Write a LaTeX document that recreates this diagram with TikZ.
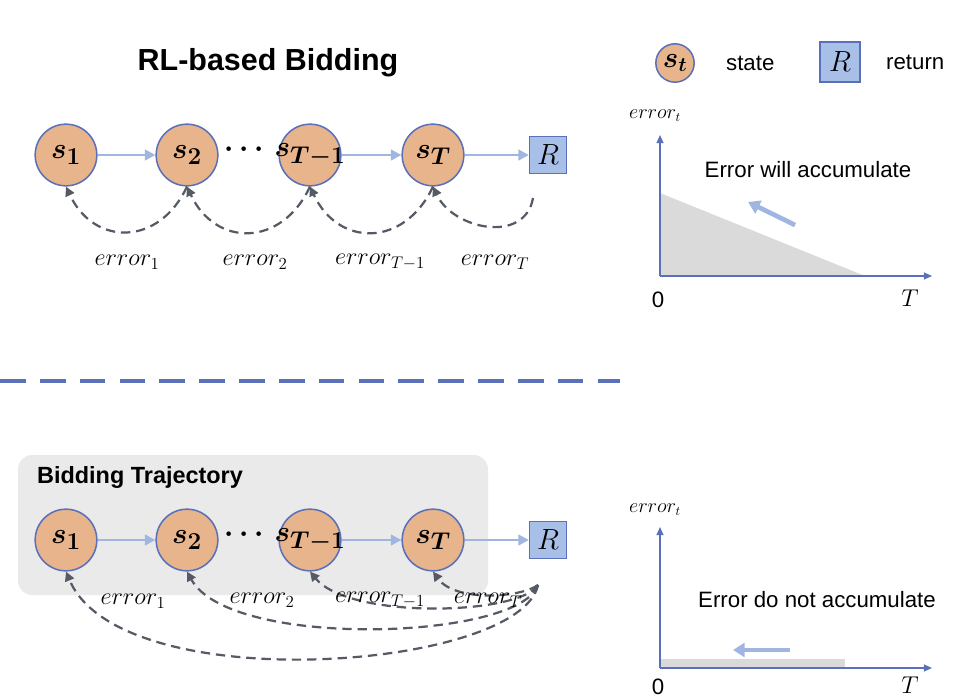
\documentclass[tikz,border=0pt]{standalone}
\usepackage{amsmath,bm}
\usepackage{fontspec}
\setmainfont{Liberation Sans}
\usetikzlibrary{arrows.meta}
\definecolor{peach}{RGB}{232,180,140}
\definecolor{bord}{RGB}{90,112,185}
\definecolor{lblue}{RGB}{160,182,225}
\definecolor{sqf}{RGB}{168,192,232}
\definecolor{dgray}{RGB}{85,90,100}
\definecolor{boxg}{RGB}{234,234,234}
\begin{document}
\begin{tikzpicture}[x=0.03cm,y=-0.03cm,
 st/.style={circle,draw=bord,line width=1.3pt,fill=peach,minimum size=1.85cm,inner sep=0pt},
 sl/.style={font=\fontsize{28}{28}\selectfont},
 rt/.style={draw=bord,line width=1.3pt,fill=sqf,minimum size=1.1cm,inner sep=0pt,font=\fontsize{26}{26}\selectfont},
 fw/.style={draw=lblue,line width=2.2pt,-{Triangle[length=9pt,width=9pt]}},
 er/.style={draw=dgray,line width=1.9pt,dash pattern=on 8pt off 5pt,-{Triangle[length=8pt,width=8pt]}},
 lab/.style={font=\fontsize{20}{20}\selectfont},
 ax/.style={draw=bord,line width=1.3pt,-{Triangle[length=7pt,width=6pt]}},
 dots/.style={font=\fontsize{30}{30}\selectfont},
 txt/.style={font=\fontsize{19}{19}\selectfont}]
\useasboundingbox (0,0) rectangle (965,695);
% top
\node[font=\fontsize{26}{26}\selectfont\bfseries] (t1) at (268,63) {RL-based Bidding};
\node[st,label={[sl]center:$\bm{s_1}$}] (a1) at (66,155) {};
\node[st,label={[sl]center:$\bm{s_2}$}] (a2) at (187,155) {};
\node[st,label={[sl]center:$\bm{s_{T-1}}$}] (a3) at (310,155) {};
\node[st,label={[sl]center:$\bm{s_T}$}] (a4) at (433,155) {};
\node[rt] (ar) at (548,155) {$R$};
\node[dots] (d1) at (247,150) {$\bm{\cdots}$};
\draw[fw] (a1) -- (a2);
\draw[fw] (a3) -- (a4);
\draw[fw] (a4) -- (ar);
\coordinate (rb) at (533,198);
\draw[er] (a2.south) to[out=-115,in=-65,looseness=1.4] (a1.south);
\draw[er] (a3.south) to[out=-115,in=-65,looseness=1.4] (a2.south);
\draw[er] (a4.south) to[out=-115,in=-65,looseness=1.4] (a3.south);
\draw[er] (rb) to[out=-100,in=-65,looseness=1.2] (a4.south);
\node[lab] (e1) at (127,262) {$error_1$};
\node[lab] (e2) at (255,262) {$error_2$};
\node[lab] (e3) at (380,262) {$error_{T-1}$};
\node[lab] (e4) at (495,262) {$error_T$};
% separator
\draw[bord,line width=3pt,dash pattern=on 22pt off 12pt] (0,381) -- (620,381);
% legend
\node[st,minimum size=1.15cm,label={[font=\fontsize{24}{24}\selectfont]center:$\bm{s_t}$}] (lg1) at (675,63) {};
\node[txt,anchor=west] (lg2) at (722,63) {state};
\node[rt,minimum size=1.2cm] (lg3) at (840,62) {$R$};
\node[txt,anchor=west] (lg4) at (882,62) {return};
% top chart
\coordinate (o1) at (660,276);
\fill[boxg!85!gray] (660,193) -- (660,276) -- (865,276) -- cycle;
\draw[ax] (o1) -- (660,135);
\draw[ax] (o1) -- (932,276);
\node[font=\fontsize{16}{16}\selectfont] (y1) at (655,116) {$error_t$};
\node[txt] (z1) at (658,300) {0};
\node[lab] (x1) at (910,298) {$T$};
\node[txt] (c1) at (808,170) {Error will accumulate};
\draw[draw=lblue,line width=4pt,-{Triangle[length=10pt,width=12pt]}] (795,225) -- (748,202);
% bottom
\fill[boxg,rounded corners=12pt] (18,455) rectangle (488,595);
\node[font=\fontsize{20}{20}\selectfont\bfseries,anchor=west] (t2) at (33,477) {Bidding Trajectory};
\node[st,label={[sl]center:$\bm{s_1}$}] (b1) at (66,540) {};
\node[st,label={[sl]center:$\bm{s_2}$}] (b2) at (187,540) {};
\node[st,label={[sl]center:$\bm{s_{T-1}}$}] (b3) at (310,540) {};
\node[st,label={[sl]center:$\bm{s_T}$}] (b4) at (433,540) {};
\node[rt] (br) at (548,540) {$R$};
\node[dots] (d2) at (247,535) {$\bm{\cdots}$};
\draw[fw] (b1) -- (b2);
\draw[fw] (b3) -- (b4);
\draw[fw] (b4) -- (br);
\coordinate (rb2) at (538,585);
\draw[er] (rb2) .. controls (520,670) and (120,700) .. (b1.south);
\draw[er] (rb2) .. controls (520,640) and (230,650) .. (b2.south);
\draw[er] (rb2) .. controls (520,615) and (350,620) .. (b3.south);
\draw[er] (rb2) .. controls (520,598) and (455,602) .. (b4.south);
\node[lab] (f1) at (133,601) {$error_1$};
\node[lab] (f2) at (262,600) {$error_2$};
\node[lab] (f3) at (380,600) {$error_{T-1}$};
\node[lab] (f4) at (488,600) {$error_T$};
% bottom chart
\coordinate (o2) at (660,668);
\fill[boxg!85!gray] (661,659) rectangle (845,668);
\draw[ax] (o2) -- (660,527);
\draw[ax] (o2) -- (932,668);
\node[font=\fontsize{16}{16}\selectfont] (y2) at (655,510) {$error_t$};
\node[txt,anchor=north] (z2) at (658,675) {0};
\node[lab,anchor=north] (x2) at (910,673) {$T$};
\node[txt] (c2) at (817,600) {Error do not accumulate};
\draw[draw=lblue,line width=4pt,-{Triangle[length=10pt,width=12pt]}] (790,650) -- (733,650);
\end{tikzpicture}
\end{document}
